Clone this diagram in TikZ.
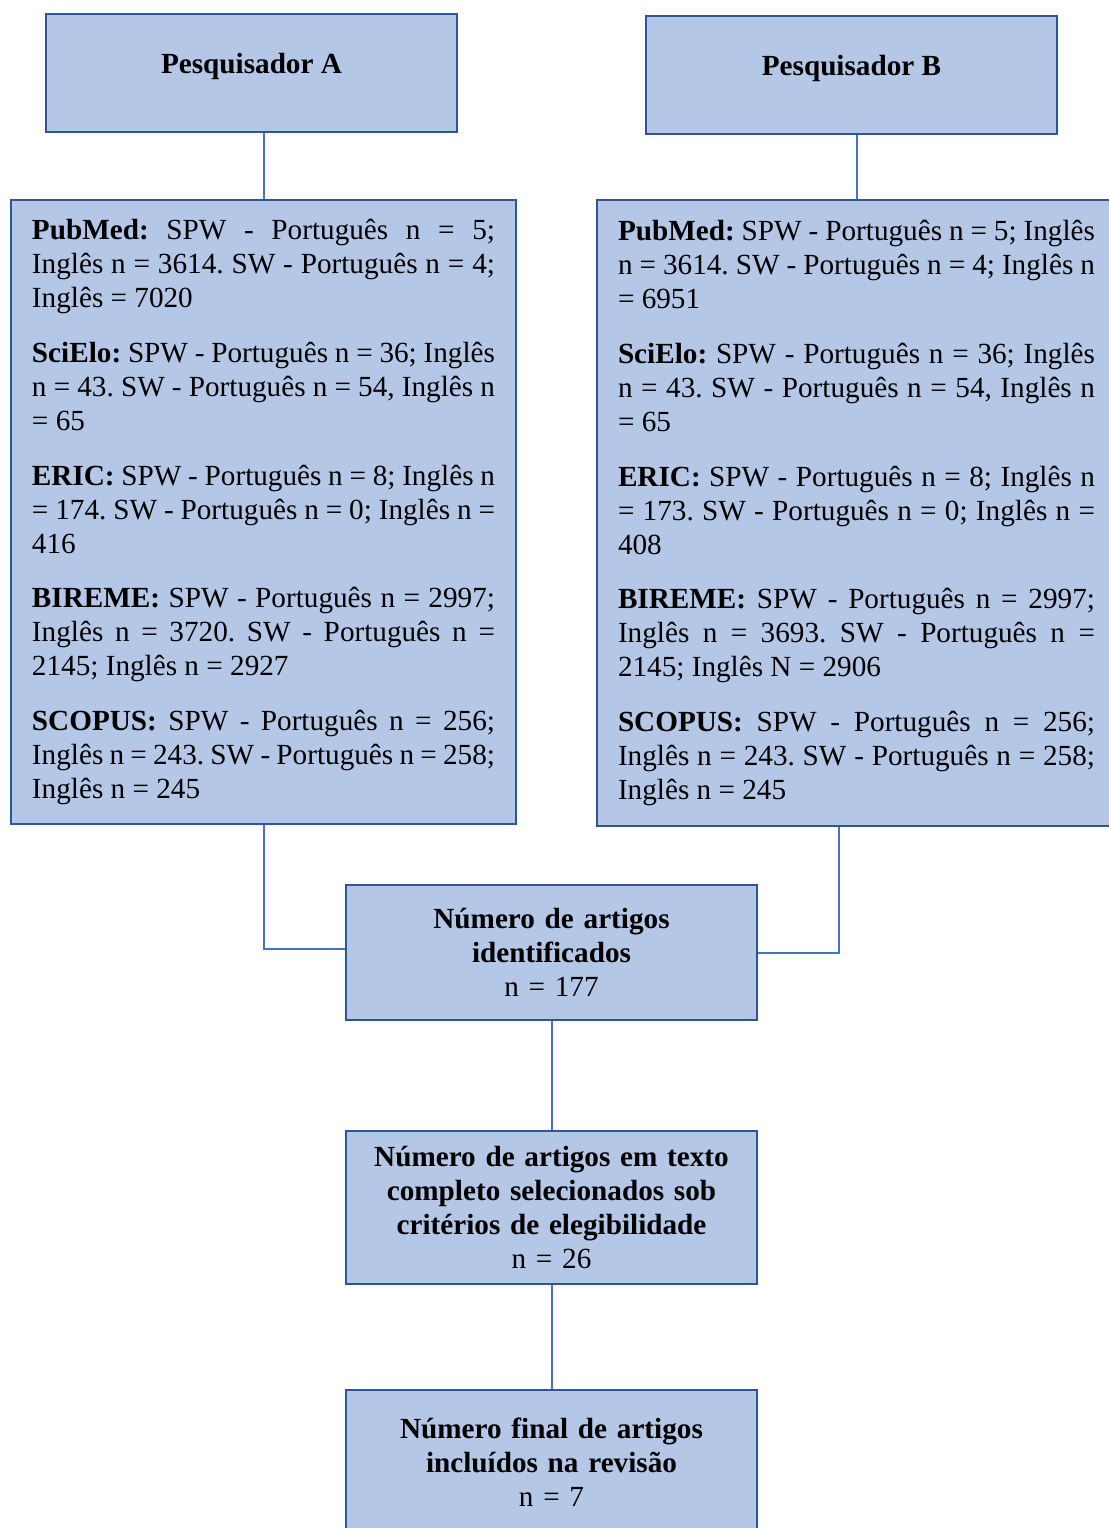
\documentclass[tikz,border=0pt]{standalone}
\usepackage{fontspec}
\setmainfont{Liberation Serif}
\definecolor{boxfill}{HTML}{B4C7E7}
\definecolor{boxedge}{HTML}{2F5597}
\definecolor{linkblue}{HTML}{4472C4}
\frenchspacing
\tolerance=10000
\hyphenpenalty=10000
\exhyphenpenalty=10000
\hbadness=10000
\newcommand{\bodyfont}{\fontsize{14.6}{17}\selectfont}
\newcommand{\dbgap}{\par\vspace{10.3pt}}
\tikzstyle{headbox} = [rectangle, draw=boxedge, line width=1.2pt, fill=boxfill, minimum width=205.5pt, minimum height=59pt, inner sep=0pt, text height=10pt, text depth=10pt, font=\bodyfont\bfseries]
\tikzstyle{dbbox} = [rectangle, draw=boxedge, line width=1.2pt, fill=boxfill, inner xsep=10.5pt, inner ysep=0pt, align=justify, font=\bodyfont]
\tikzstyle{stepbox} = [rectangle, draw=boxedge, line width=1.2pt, fill=boxfill, minimum width=205.5pt, text width=195pt, inner xsep=5pt, align=center, font=\bodyfont]
\tikzstyle{connector} = [line width=1pt, draw=linkblue]
\begin{document}
\begin{tikzpicture}[x=0.5pt, y=-0.5pt]

  \useasboundingbox (0,0) rectangle (1109,1528);

  % Researchers
  \node (headA) at (251.5,73) [headbox] {Pesquisador A};
  \node (headB) at (851.5,75) [headbox] {Pesquisador B};

  % Database searches, researcher A
  \node (dbA) at (263.5,512) [dbbox, text width=231.5pt, minimum height=312pt] {%
    \textbf{PubMed:} SPW - Português n = 5;\linebreak Inglês n = 3614. SW - Português n = 4;\linebreak Inglês = 7020\dbgap
    \textbf{SciElo:} SPW - Português n = 36; Inglês\linebreak n = 43. SW - Português n = 54, Inglês n\linebreak = 65\dbgap
    \textbf{ERIC:} SPW - Português n = 8; Inglês n\linebreak = 174. SW - Português n = 0; Inglês n =\linebreak 416\dbgap
    \textbf{BIREME:} SPW - Português n = 2997;\linebreak Inglês n = 3720. SW - Português n =\linebreak 2145; Inglês n = 2927\dbgap
    \textbf{SCOPUS:} SPW - Português n = 256;\linebreak Inglês n = 243. SW - Português n = 258;\linebreak Inglês n = 245};

  % Database searches, researcher B
  \node (dbB) at (856.5,513) [dbbox, text width=238.5pt, minimum height=313pt] {%
    \textbf{PubMed:} SPW - Português n = 5; Inglês\linebreak n = 3614. SW - Português n = 4; Inglês n\linebreak = 6951\dbgap
    \textbf{SciElo:} SPW - Português n = 36; Inglês\linebreak n = 43. SW - Português n = 54, Inglês n\linebreak = 65\dbgap
    \textbf{ERIC:} SPW - Português n = 8; Inglês n\linebreak = 173. SW - Português n = 0; Inglês n =\linebreak 408\dbgap
    \textbf{BIREME:} SPW - Português n = 2997;\linebreak Inglês n = 3693. SW - Português n =\linebreak 2145; Inglês N = 2906\dbgap
    \textbf{SCOPUS:} SPW - Português n = 256;\linebreak Inglês n = 243. SW - Português n = 258;\linebreak Inglês n = 245};

  % Selection steps
  \node (ident) at (551.5,952.5) [stepbox, minimum height=67.5pt] {\textbf{Número de artigos}\\\textbf{identificados}\\n = 177};
  \node (fulltext) at (551.5,1207.5) [stepbox, minimum height=76.5pt] {\textbf{Número de artigos em texto}\\\textbf{completo selecionados sob}\\\textbf{critérios de elegibilidade}\\n = 26};
  \node (final) at (551.5,1462) [stepbox, minimum height=72pt] {\textbf{Número final de artigos}\\\textbf{incluídos na revisão}\\n = 7};

  % Lines from researchers
  \draw[connector] (dbA.north) -- (dbA.north |- headA.south);
  \draw[connector] (dbB.north) -- (dbB.north |- headB.south);

  % Lines to identified articles
  \draw[connector] (dbA.south) |- ([yshift=2pt]ident.west);
  \draw[connector] ([xshift=-9pt]dbB.south) |- (ident.east);

  % Lines between steps
  \draw[connector] (ident) -- (fulltext);
  \draw[connector] (fulltext) -- (final);

\end{tikzpicture}
\end{document}
